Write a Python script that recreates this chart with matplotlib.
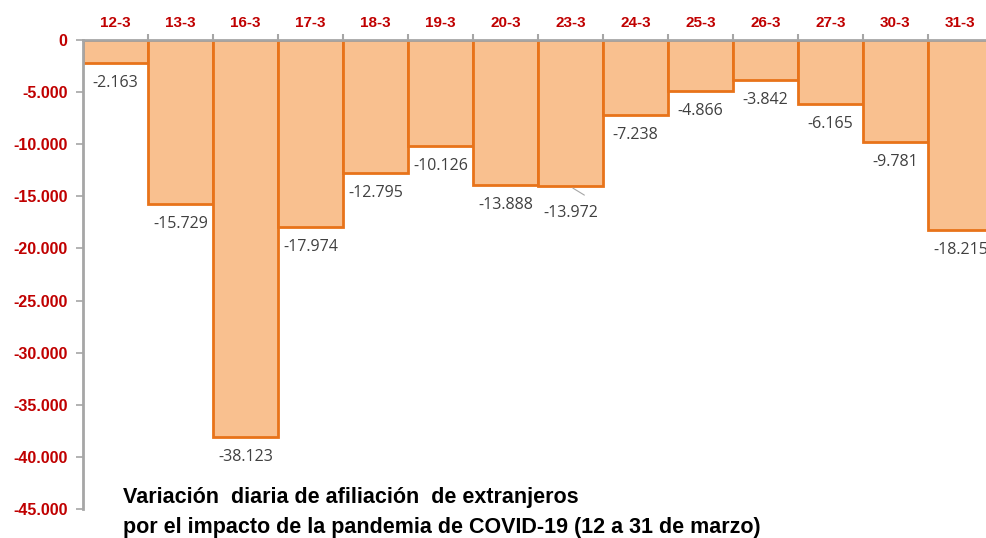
import matplotlib
matplotlib.use("Agg")
import matplotlib.pyplot as plt

categories = ["12-3", "13-3", "16-3", "17-3", "18-3", "19-3", "20-3",
              "23-3", "24-3", "25-3", "26-3", "27-3", "30-3", "31-3"]
values = [-2163, -15729, -38123, -17974, -12795, -10126, -13888,
          -13972, -7238, -4866, -3842, -6165, -9781, -18215]
yticks = list(range(0, -45001, -5000))
title_lines = ["Variación  diaria de afiliación  de extranjeros",
               "por el impacto de la pandemia de COVID-19 (12 a 31 de marzo)"]

plt.rcParams['font.family'] = ['Open Sans', 'DejaVu Sans']
BOLD = ['Liberation Sans', 'DejaVu Sans']

fig = plt.figure(figsize=(9.87, 5.38), dpi=100)
W, H = 987, 538
left, right, top, bottom = 83, 993, 40, 509
ax = fig.add_axes([left / W, 1 - bottom / H, (right - left) / W, (bottom - top) / H])

fill = "#F9C08F"
edge = "#E8731A"
x = list(range(len(categories)))
ax.bar(x, values, width=1.0, color=fill, edgecolor=edge, linewidth=2, zorder=2)

ax.set_xlim(-0.5, len(categories) - 0.5)
ax.set_ylim(-45000, 0)

def fmt(v):
    s = f"{abs(int(round(v))):,}".replace(",", ".")
    return ("-" + s) if v < 0 else s

ax.set_yticks(yticks)
ax.set_yticklabels([fmt(v) for v in yticks], fontsize=11.5, fontweight='bold',
                   color="#C00000", family=BOLD)
ax.tick_params(axis='y', colors="#A6A6A6", length=5, width=1.2, direction='out', pad=6)
for t in ax.get_yticklabels():
    t.set_color("#C00000")

ax.xaxis.tick_top()
ax.set_xticks(x)
ax.set_xticklabels(categories, fontsize=11, fontweight='bold', color="#C00000", family=BOLD)
ax.set_xticks([i + 0.5 for i in x[:-1]], minor=True)
ax.tick_params(axis='x', which='major', length=0, pad=7)
ax.tick_params(axis='x', which='minor', length=4, width=1.5, colors="#A6A6A6", direction='out')

for s in ["right", "bottom"]:
    ax.spines[s].set_visible(False)
for s in ["left", "top"]:
    ax.spines[s].set_color("#A6A6A6")
    ax.spines[s].set_linewidth(2)
ax.spines["top"].set_zorder(3)

for i, v in enumerate(values):
    dy = -20
    if categories[i] == "23-3":
        dy = -27
    ax.annotate(fmt(v), (i, v), xytext=(0, dy), textcoords='offset pixels',
                ha='center', va='center', fontsize=11.5, color="#404040", zorder=4)

# leader line for 23-3
i23 = categories.index("23-3")
ax.annotate("", xy=(i23, values[i23] - 100), xytext=(i23 + 0.25, values[i23] - 1050),
            arrowprops=dict(arrowstyle='-', color="#A6A6A6", lw=0.8), zorder=4)

fig.text(123 / W, 1 - 497 / H, title_lines[0], fontsize=15.5, fontweight='bold',
         color="black", ha='left', va='center', family=BOLD)
fig.text(123 / W, 1 - 527 / H, title_lines[1], fontsize=15.5, fontweight='bold',
         color="black", ha='left', va='center', family=BOLD)

fig.savefig("out.png", dpi=100)
